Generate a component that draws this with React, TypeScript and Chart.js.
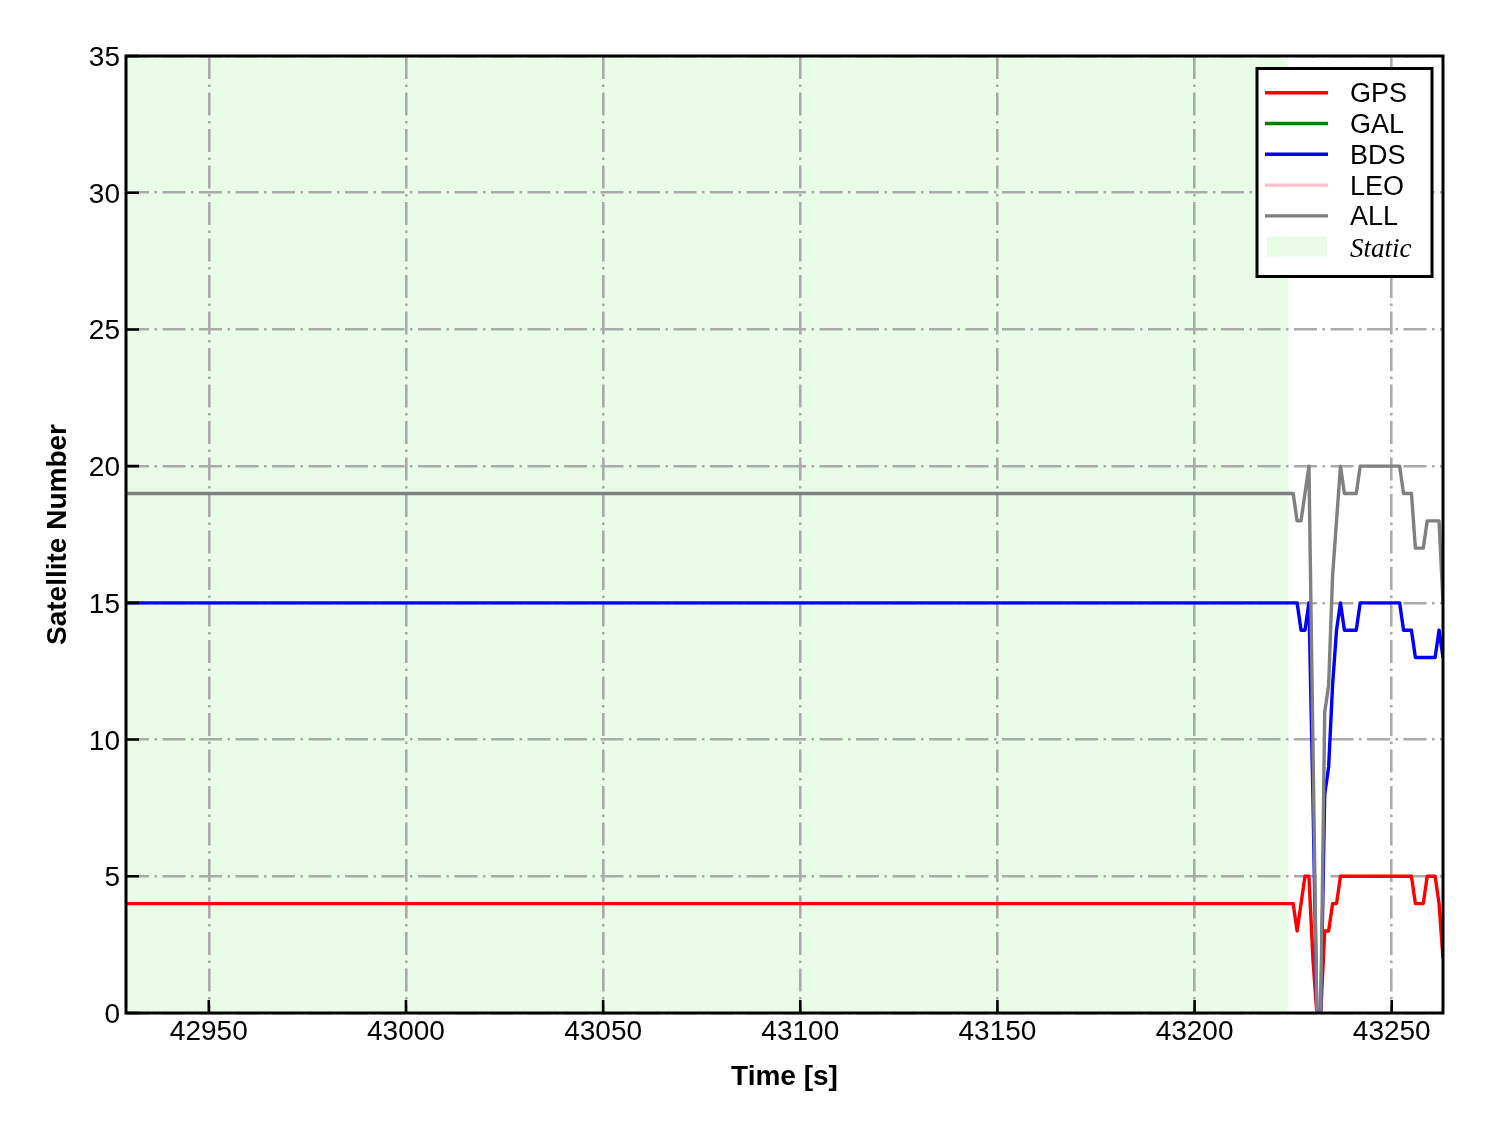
import React, { useEffect, useRef } from "react";
import { Chart, registerables } from "chart.js";

Chart.register(...registerables);

// Epoch times [s]: constant static section start, then 1 Hz epochs of the kinematic part
const timeSec = [
  42929,
  43225, 43226, 43227, 43228, 43229, 43230, 43231, 43232, 43233, 43234,
  43235, 43236, 43237, 43238, 43239, 43240, 43241, 43242, 43243, 43244,
  43245, 43246, 43247, 43248, 43249, 43250, 43251, 43252, 43253, 43254,
  43255, 43256, 43257, 43258, 43259, 43260, 43261, 43262, 43263,
];

const gpsCount = [
  4,
  4, 3, 4, 5, 5, 2, 0, 0, 3, 3,
  4, 4, 5, 5, 5, 5, 5, 5, 5, 5,
  5, 5, 5, 5, 5, 5, 5, 5, 5, 5,
  5, 4, 4, 4, 5, 5, 5, 4, 2,
];

const galCount: number[] = [];

const bdsCount = [
  15,
  15, 15, 14, 14, 15, 8, 0, 0, 8, 9,
  12, 14, 15, 14, 14, 14, 14, 15, 15, 15,
  15, 15, 15, 15, 15, 15, 15, 15, 14, 14,
  14, 13, 13, 13, 13, 13, 13, 14, 13,
];

const leoCount: number[] = [];

const allCount = [
  19,
  19, 18, 18, 19, 20, 10, 0, 0, 11, 12,
  16, 18, 20, 19, 19, 19, 19, 20, 20, 20,
  20, 20, 20, 20, 20, 20, 20, 20, 19, 19,
  19, 17, 17, 17, 18, 18, 18, 18, 15,
];

const staticInterval = [42929, 43223.8];
const xRange = [42929, 43263];
const yRange = [0, 35];
const xTickValues = [42950, 43000, 43050, 43100, 43150, 43200, 43250];
const yTickValues = [0, 5, 10, 15, 20, 25, 30, 35];

const seriesLabels = ["GPS", "GAL", "BDS", "LEO", "ALL"];
const seriesColors = ["#ff0000", "#008000", "#0000ff", "#ffc0cb", "#808080"];
const staticLabel = "Static";
const staticColor = "rgb(232,252,232)";
const xTitle = "Time [s]";
const yTitle = "Satellite Number";

const SANS = '"Liberation Sans", Arial, Helvetica, sans-serif';
const SERIF = '"Liberation Serif", "Times New Roman", serif';

export default function App() {
  const ref = useRef<HTMLCanvasElement>(null);

  useEffect(() => {
    const canvas = ref.current;
    if (!canvas) return;
    const seriesData = [gpsCount, galCount, bdsCount, leoCount, allCount];
    const toPts = (ys: number[]) => ys.map((y, i) => ({ x: timeSec[i], y }));

    const decor = {
      id: "decor",
      beforeDraw(chart: any) {
        const { ctx, chartArea: a, scales } = chart;
        const x = scales.x;
        ctx.save();
        ctx.fillStyle = "#ffffff";
        ctx.fillRect(0, 0, chart.width, chart.height);
        const x0 = Math.max(a.left, x.getPixelForValue(staticInterval[0]));
        const x1 = Math.min(a.right, x.getPixelForValue(staticInterval[1]));
        ctx.fillStyle = staticColor;
        ctx.fillRect(x0, a.top, x1 - x0, a.bottom - a.top);
        ctx.restore();
      },
      afterDatasetsDraw(chart: any) {
        const { ctx, chartArea: a, scales } = chart;
        const xs = scales.x;
        const ys = scales.y;
        ctx.save();
        // inward ticks
        ctx.strokeStyle = "#000";
        ctx.lineWidth = 2.6;
        ctx.beginPath();
        xTickValues.forEach((v) => {
          const px = xs.getPixelForValue(v);
          ctx.moveTo(px, a.bottom);
          ctx.lineTo(px, a.bottom - 13);
        });
        yTickValues.forEach((v) => {
          const py = ys.getPixelForValue(v);
          ctx.moveTo(a.left, py);
          ctx.lineTo(a.left + 13, py);
        });
        ctx.stroke();
        // frame
        ctx.lineWidth = 3;
        ctx.strokeRect(a.left, a.top, a.right - a.left, a.bottom - a.top);

        // tick labels
        ctx.fillStyle = "#000";
        ctx.font = `28px ${SANS}`;
        ctx.textAlign = "center";
        ctx.textBaseline = "alphabetic";
        xTickValues.forEach((v) => {
          ctx.fillText(String(v), xs.getPixelForValue(v), a.bottom + 27);
        });
        ctx.textAlign = "right";
        yTickValues.forEach((v) => {
          ctx.fillText(String(v), a.left - 6, ys.getPixelForValue(v) + 10);
        });

        // axis titles
        ctx.font = `bold 28px ${SANS}`;
        ctx.textAlign = "center";
        ctx.fillText(xTitle, (a.left + a.right) / 2, 1085);
        ctx.save();
        ctx.translate(66, (a.top + a.bottom) / 2);
        ctx.rotate(-Math.PI / 2);
        ctx.fillText(yTitle, 0, 0);
        ctx.restore();

        // legend
        const bx = 1257, by = 68.5, bw = 175, bh = 208;
        ctx.fillStyle = "#ffffff";
        ctx.fillRect(bx, by, bw, bh);
        ctx.lineWidth = 3;
        ctx.strokeStyle = "#000";
        ctx.strokeRect(bx, by, bw, bh);
        const y0 = 92.7;
        const step = 30.8;
        ctx.textAlign = "left";
        seriesLabels.forEach((lab, i) => {
          const yy = y0 + i * step;
          ctx.strokeStyle = seriesColors[i];
          ctx.lineWidth = 3.4;
          ctx.beginPath();
          ctx.moveTo(1265, yy);
          ctx.lineTo(1328, yy);
          ctx.stroke();
          ctx.fillStyle = "#000";
          ctx.font = `27px ${SANS}`;
          ctx.fillText(lab, 1350, yy + 9.5);
        });
        const sy = y0 + seriesLabels.length * step;
        ctx.fillStyle = staticColor;
        ctx.fillRect(1267, sy - 10, 60, 20);
        ctx.fillStyle = "#000";
        ctx.font = `italic 27px ${SERIF}`;
        ctx.fillText(staticLabel, 1350, sy + 10);
        ctx.restore();
      },
    };

    const chart = new Chart(canvas, {
      type: "line",
      data: {
        datasets: seriesLabels.map((lab, i) => ({
          label: lab,
          data: toPts(seriesData[i]),
          borderColor: seriesColors[i],
          backgroundColor: seriesColors[i],
          borderWidth: 3.4,
          pointRadius: 0,
          pointHoverRadius: 0,
          tension: 0,
          fill: false,
          borderJoinStyle: "round" as const,
          order: seriesLabels.length - i,
          clip: 0,
        })),
      },
      options: {
        animation: false,
        responsive: false,
        devicePixelRatio: 1,
        events: [],
        parsing: false as any,
        layout: { padding: { left: 126, right: 45, top: 56, bottom: 120 } },
        plugins: {
          legend: { display: false },
          tooltip: { enabled: false },
        },
        scales: {
          x: {
            type: "linear",
            min: xRange[0],
            max: xRange[1],
            ticks: { display: false },
            grid: { color: "#aaaaaa", lineWidth: 2.6, drawTicks: false },
            border: { display: false, dash: [23, 5.5, 2.5, 5.5] },
            afterFit: (s: any) => { s.height = 0; },
            afterBuildTicks: (s: any) => { s.ticks = xTickValues.map((v) => ({ value: v })); },
          },
          y: {
            type: "linear",
            min: yRange[0],
            max: yRange[1],
            ticks: { display: false },
            grid: { color: "#aaaaaa", lineWidth: 2.6, drawTicks: false },
            border: { display: false, dash: [23, 5.5, 2.5, 5.5] },
            afterFit: (s: any) => { s.width = 0; },
            afterBuildTicks: (s: any) => { s.ticks = yTickValues.map((v) => ({ value: v })); },
          },
        },
      },
      plugins: [decor],
    });

    return () => chart.destroy();
  }, []);

  return (
    <div style={{ position: "absolute", left: 0, top: 0, width: 1488, height: 1133, background: "#fff" }}>
      <canvas ref={ref} width={1488} height={1133} style={{ display: "block", width: 1488, height: 1133 }} />
    </div>
  );
}
